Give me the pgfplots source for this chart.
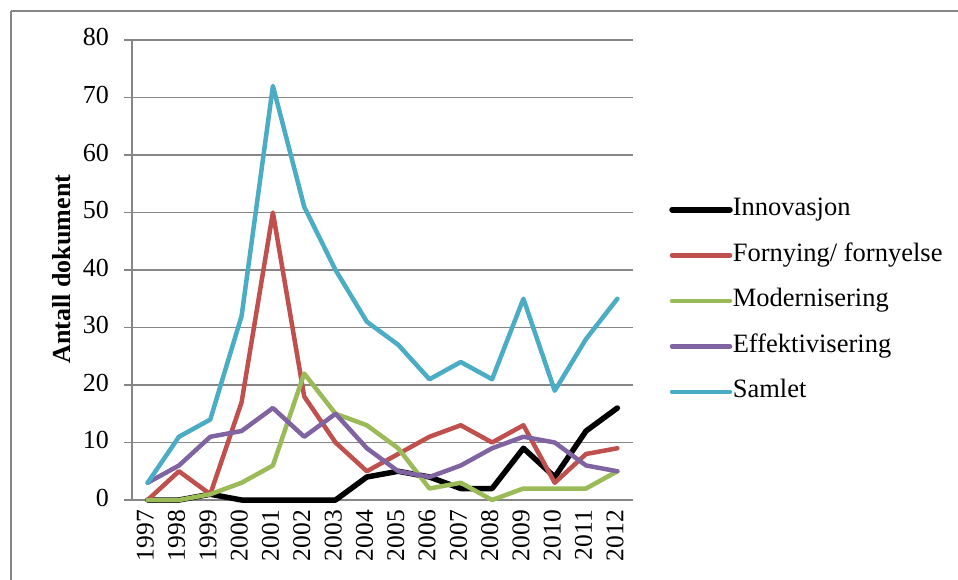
\documentclass[border=0pt]{standalone}
\usepackage{pgfplots}
\pgfplotsset{compat=1.18}
\usepackage{fontspec}
\setmainfont{Liberation Serif}
\definecolor{cInn}{HTML}{000000}
\definecolor{cFor}{HTML}{C0504D}
\definecolor{cMod}{HTML}{9BBB59}
\definecolor{cEff}{HTML}{8064A2}
\definecolor{cSam}{HTML}{4BACC6}
\definecolor{gridgray}{HTML}{868686}
\begin{document}
\begin{tikzpicture}[x=1pt,y=1pt]
\useasboundingbox (0,0) rectangle (958,579);
\draw[gridgray, line width=1.5pt] (11,568) -- (962,568);
\draw[gridgray, line width=1.5pt] (11,568) -- (11,-4);
\begin{axis}[
  at={(132pt,79pt)}, anchor=south west,
  width=501pt, height=460pt, scale only axis,
  clip=false,
  xmin=1996.5, xmax=2012.5,
  ymin=0, ymax=80,
  ytick={0,10,...,80},
  xtick={1997,...,2012},
  xticklabels={1997,1998,1999,2000,2001,2002,2003,2004,2005,2006,2007,2008,2009,2010,2011,2012},
  minor xtick={1996.5,1997.5,...,2012.5},
  axis x line*=bottom, axis y line*=left,
  axis line style={gridgray, line width=1.5pt, -},
  ymajorgrids,
  grid style={gridgray, line width=1.5pt},
  tick align=outside,
  major tick length=8pt, minor tick length=7pt,
  every tick/.style={gridgray, line width=1.5pt},
  xtick style={draw=none},
  minor x tick style={gridgray, line width=1.5pt},
  /pgf/number format/assume math mode=true,
  tick label style={font=\fontsize{26}{30}\selectfont},
  yticklabel style={anchor=east, inner sep=0pt, xshift=-15pt},
  xticklabel style={rotate=90, anchor=east, inner sep=0pt, yshift=0pt, xshift=-2pt, font=\fontsize{25.5}{30}\selectfont},
  typeset ticklabels with strut,
  ylabel={\bfseries Antall dokument},
  ylabel style={at={(axis description cs:-0.14,0.502)}, anchor=center, font=\fontsize{26}{30}\selectfont},
  legend style={draw=none, fill=none, at={(1.066,0.433)}, anchor=west,
    font=\fontsize{26.5}{30}\selectfont, row sep=21.5pt,
    nodes={inner sep=0pt, text height=18pt, text depth=6pt}},
  legend cell align=left,
  legend image code/.code={\draw[#1, line cap=round] (0pt,0pt) -- (58pt,0pt);},
  every axis plot/.append style={line join=round, line cap=round},
]
\addplot[cInn, line width=5.5pt] coordinates {(1997,0)(1998,0)(1999,1)(2000,0)(2001,0)(2002,0)(2003,0)(2004,4)(2005,5)(2006,4)(2007,2)(2008,2)(2009,9)(2010,4)(2011,12)(2012,16)};
\addlegendentry{Innovasjon}
\addplot[cFor, line width=4.5pt] coordinates {(1997,0)(1998,5)(1999,1)(2000,17)(2001,50)(2002,18)(2003,10)(2004,5)(2005,8)(2006,11)(2007,13)(2008,10)(2009,13)(2010,3)(2011,8)(2012,9)};
\addlegendentry{Fornying/ fornyelse}
\addplot[cMod, line width=4.5pt] coordinates {(1997,0)(1998,0)(1999,1)(2000,3)(2001,6)(2002,22)(2003,15)(2004,13)(2005,9)(2006,2)(2007,3)(2008,0)(2009,2)(2010,2)(2011,2)(2012,5)};
\addlegendentry{Modernisering}
\addplot[cEff, line width=4.5pt] coordinates {(1997,3)(1998,6)(1999,11)(2000,12)(2001,16)(2002,11)(2003,15)(2004,9)(2005,5)(2006,4)(2007,6)(2008,9)(2009,11)(2010,10)(2011,6)(2012,5)};
\addlegendentry{Effektivisering}
\addplot[cSam, line width=4.5pt] coordinates {(1997,3)(1998,11)(1999,14)(2000,32)(2001,72)(2002,51)(2003,40)(2004,31)(2005,27)(2006,21)(2007,24)(2008,21)(2009,35)(2010,19)(2011,28)(2012,35)};
\addlegendentry{Samlet}
\end{axis}
\end{tikzpicture}
\end{document}
